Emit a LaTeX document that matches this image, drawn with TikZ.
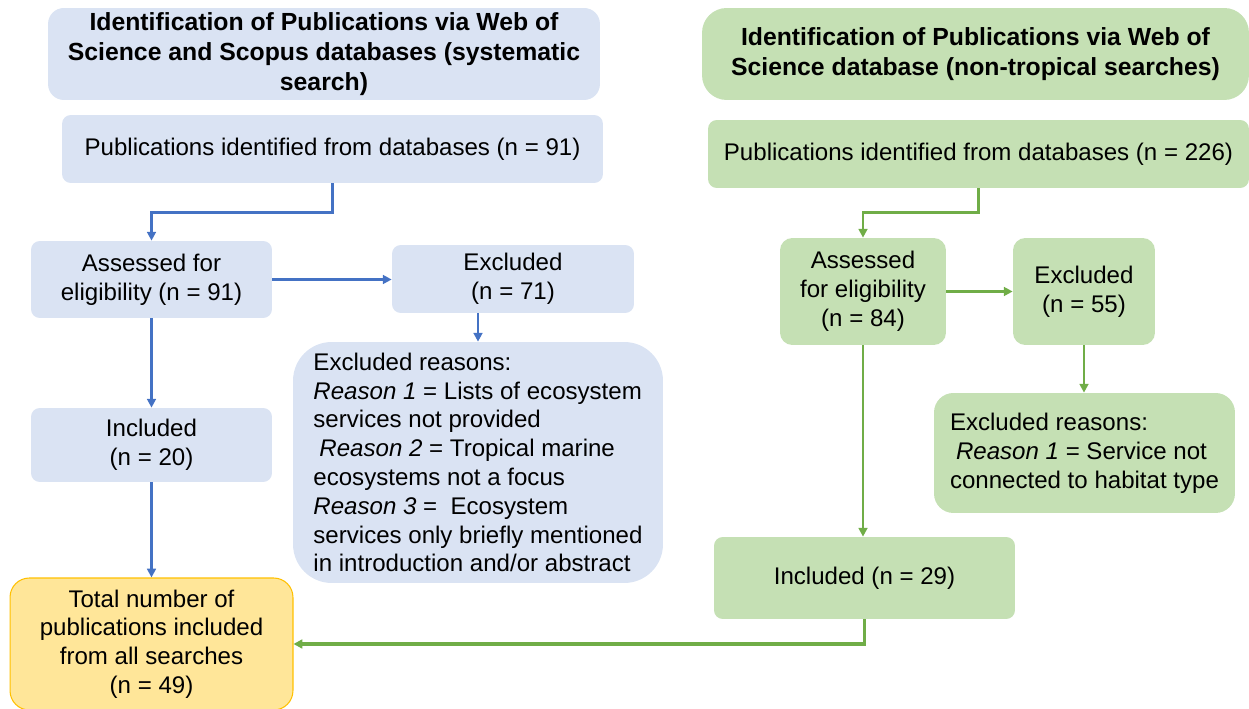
\documentclass[tikz,border=0pt]{standalone}
\usepackage{fontspec}
\setmainfont{Liberation Sans}
\usepackage{tikz}
\usetikzlibrary{arrows.meta,positioning,calc}

\definecolor{bluefill}{HTML}{DAE3F3}
\definecolor{blueline}{HTML}{4472C4}
\definecolor{greenfill}{HTML}{C5E0B4}
\definecolor{greenline}{HTML}{70AD47}
\definecolor{yellowfill}{HTML}{FFE699}
\definecolor{yellowline}{HTML}{FFC000}

\begin{document}
\begin{tikzpicture}[
  x=0.02cm, y=-0.02cm,
  font=\fontsize{13.7}{16.4}\selectfont,
  >={Triangle[length=5pt, width=5pt]},
  bbox/.style={rectangle, rounded corners=5pt, fill=bluefill, draw=none, inner sep=0pt, align=center},
  gbox/.style={rectangle, rounded corners=7pt, fill=greenfill, draw=none, inner sep=0pt, align=center},
  head/.style={font=\fontsize{14.1}{17}\selectfont\bfseries},
  bflow/.style={->, line width=1.5pt, draw=blueline},
  gflow/.style={->, line width=1.5pt, draw=greenline},
]
\useasboundingbox (0,0) rectangle (1249,709);

% left branch (systematic search)
\node[bbox, head, rounded corners=9pt, minimum width=11.04cm, minimum height=1.84cm] (titleL) at (324,54)
  {Identification of Publications via Web of\\ Science and Scopus databases (systematic\\ search)};
\node[bbox, minimum width=10.82cm, minimum height=1.36cm] (pubL) at (332.5,149)
  {Publications identified from databases (n = 91)};
\node[bbox, minimum width=4.82cm, minimum height=1.54cm] (assL) at (151.5,279.5)
  {Assessed for\\ eligibility (n = 91)};
\node[bbox, minimum width=4.84cm, minimum height=1.36cm] (exclL) at (513,279)
  {Excluded\\ (n = 71)};
\node[bbox, rounded corners=22pt, align=left, minimum width=7.4cm, minimum height=4.82cm] (reasL) at (478,462.5)
  {Excluded reasons:\\
   \textit{Reason 1} = Lists of ecosystem\\
   services not provided\\
   \hspace{0.25em}\textit{Reason 2} = Tropical marine\\
   ecosystems not a focus\\
   \textit{Reason 3} = \ Ecosystem\\
   services only briefly mentioned\\
   in introduction and/or abstract};
\node[bbox, minimum width=4.82cm, minimum height=1.48cm] (incL) at (151.5,445)
  {Included\\ (n = 20)};
\node[bbox, rounded corners=11pt, fill=yellowfill, draw=yellowline, line width=0.6pt,
      minimum width=5.66cm, minimum height=2.64cm] (total) at (151.5,644)
  {Total number of\\ publications included\\ from all searches\\ (n = 49)};

% right branch (non-tropical searches)
\node[gbox, head, rounded corners=14pt, minimum width=10.94cm, minimum height=1.84cm] (titleR) at (975.5,54)
  {Identification of Publications via Web of\\ Science database (non-tropical searches)};
\node[gbox, rounded corners=5pt, minimum width=10.82cm, minimum height=1.36cm] (pubR) at (978.5,154)
  {Publications identified from databases (n = 226)};
\node[gbox, minimum width=3.32cm, minimum height=2.14cm] (assR) at (863,291.5)
  {Assessed\\ for eligibility\\ (n = 84)};
\node[gbox, minimum width=2.84cm, minimum height=2.14cm] (exclR) at (1084,291.5)
  {Excluded\\ (n = 55)};
\node[gbox, rounded corners=11pt, align=left, minimum width=6.02cm, minimum height=2.4cm] (reasR) at (1084.5,453)
  {Excluded reasons:\\
   \hspace{0.25em}\textit{Reason 1} = Service not\\
   connected to habitat type};
\node[gbox, rounded corners=5pt, minimum width=6.02cm, minimum height=1.64cm] (incR) at (864.5,578)
  {Included (n = 29)};

\draw[bflow] (pubL.south) -- ++(0,29) -| (assL.north);
\draw[bflow] (assL.east) -- (assL.east -| exclL.west);
\draw[bflow] (exclL.south -| reasL.north) -- (reasL.north);
\draw[bflow] (assL.south) -- (incL.north);
\draw[bflow] (incL.south) -- (total.north);

\draw[gflow] (pubR.south) -- ++(0,24) -| (assR.north);
\draw[gflow] (assR.east) -- (exclR.west);
\draw[gflow] (exclR.south) -- (exclR.south |- reasR.north);
\draw[gflow] (assR.south) -- (assR.south |- incR.north);
\draw[gflow, line width=2pt] (incR.south) |- (total.east);

\end{tikzpicture}
\end{document}
